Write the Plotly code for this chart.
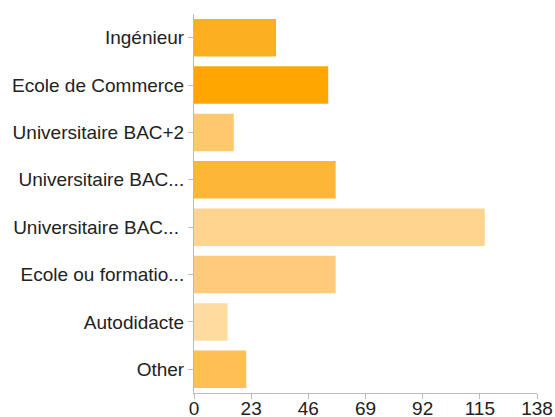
import plotly.graph_objects as go

categories = ["Ingénieur", "Ecole de Commerce", "Universitaire BAC+2", "Universitaire BAC...",
              "Universitaire BAC... ", "Ecole ou formatio...", "Autodidacte", "Other"]
values = [33, 54, 16, 57, 117, 57, 13.5, 21]
colors = ["#FDAF22", "#FFA700", "#FFC86E", "#FDB637", "#FFD48F", "#FFCA7C", "#FFDBA0", "#FFBF55"]
tick_vals = [0, 23, 46, 69, 92, 115, 138]

fig = go.Figure(go.Bar(
    x=values, y=categories, orientation="h",
    marker=dict(color=colors, line=dict(width=0)),
))
fig.update_layout(
    width=555, height=417,
    margin=dict(l=194, r=18, t=14, b=24, autoexpand=False),
    plot_bgcolor="white", paper_bgcolor="white",
    bargap=0.21,
    showlegend=False,
    font=dict(family="Liberation Sans, Arial, sans-serif", size=19, color="#222222"),
)
fig.update_xaxes(range=[0, 138], tickvals=tick_vals, showgrid=False, zeroline=False,
                 showline=True, linecolor="#BBBBBB", linewidth=1, automargin=False,
                 ticks="outside", ticklen=5, tickcolor="#BBBBBB",
                 ticklabelstandoff=-7)
fig.update_yaxes(autorange="reversed", showgrid=False, zeroline=False,
                 showline=True, linecolor="#BBBBBB", linewidth=1, automargin=False,
                 ticks="outside", ticklen=5, tickcolor="#BBBBBB",
                 ticklabelstandoff=0)
fig.write_html("out.html",
               config={"displayModeBar": False},
               post_script="document.body.style.margin='0';document.body.style.overflow='hidden';")
